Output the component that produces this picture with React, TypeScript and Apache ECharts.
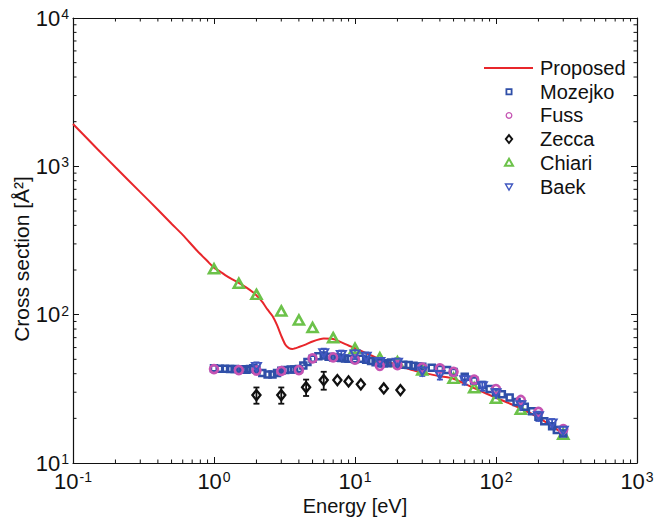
import React, { useEffect, useRef } from 'react';
import * as echarts from 'echarts';

// ---------- data ----------
const proposedEnergy = [0.1, 0.15, 0.2, 0.3, 0.4, 0.5, 0.6, 0.75, 0.9, 1.0, 1.1, 1.2, 1.35, 1.5, 1.7, 1.9, 2.0, 2.2, 2.4, 2.6, 2.8, 3.0, 3.2, 3.4, 3.6, 4.0, 4.5, 5.0, 6.0, 7.0, 7.8, 9, 10, 12, 15, 17, 20, 25, 32, 40, 50, 70, 100, 125, 150, 200, 240, 300];
const proposedSigma = [1930, 1300, 985, 670, 510, 410, 345, 273, 229, 207, 196, 185, 173, 164, 152, 141, 135, 122, 108, 98, 85, 72, 63, 59.5, 58.8, 60.5, 63, 66, 69, 68.5, 65.8, 62, 59.5, 55, 50, 48, 45.8, 42.5, 40.2, 38.5, 37, 32, 27.5, 25.2, 23.3, 20.3, 18.1, 15.8];

const mozejkoEnergy = [1.0, 1.1, 1.2, 1.3, 1.4, 1.5, 1.6, 1.7, 1.8, 1.9, 2.0, 2.2, 2.4, 2.6, 2.8, 3.0, 3.2, 3.5, 3.7, 4.0, 4.3, 4.6, 5.0, 5.5, 6.0, 6.5, 7.0, 7.5, 8.0, 8.5, 9.0, 10, 11, 12, 13, 14, 15, 16, 17, 18, 20, 22, 24, 26, 28, 30, 35, 40, 45, 50, 60, 70, 80, 90, 100, 110, 125, 140, 160, 180, 200, 220, 250, 270, 300];
const mozejkoSigma = [43.5, 43.2, 43.2, 43.0, 43.0, 42.8, 42.8, 42.6, 43.0, 43.5, 42.5, 40.5, 39.5, 39.5, 40.5, 41.8, 42.3, 42.7, 42.7, 43.0, 45.5, 48.0, 50.5, 52.5, 53.0, 52.0, 51.5, 51.5, 51.0, 50.7, 50.5, 50.0, 50.5, 49.7, 48.7, 47.8, 47.3, 47.0, 47.0, 47.5, 46.5, 46.0, 45.7, 45.2, 44.8, 44.5, 43.9, 43.0, 42.3, 41.0, 38.2, 36.0, 33.5, 31.5, 30.0, 29.1, 27.6, 25.8, 23.9, 22.3, 20.5, 19.1, 17.7, 16.7, 15.8];

const fussEnergy = [1, 1.5, 2, 3, 4, 5, 7, 10, 15, 20, 30, 40, 50, 70, 100, 150, 200, 300];
const fussSigma = [43, 42.3, 42, 41.7, 42.3, 50.7, 51.5, 49.7, 45.2, 45.7, 44, 43.5, 41.2, 36.5, 31.5, 26.6, 22.1, 16.9];

const zeccaEnergy = [2, 3, 4.5, 6, 7.5, 9, 11, 16, 21];
const zeccaSigma = [28.7, 28.7, 32.4, 36.2, 36.2, 35.5, 33.9, 31.8, 31.0];
const zeccaError = [3.6, 3.6, 4.1, 5.0, 0, 0, 0, 0, 0];

const chiariEnergy = [1, 1.5, 2, 3, 4, 5, 7, 10, 15, 20, 30, 50, 70, 100, 150, 300];
const chiariSigma = [204, 163, 137, 106, 92, 82, 70, 59.3, 51.2, 48.2, 42.3, 37.2, 32.2, 27.3, 23.0, 15.6];

const baekEnergy = [2, 6, 8, 10, 12, 15, 20, 30, 40, 60, 80, 100, 150, 200, 250, 300];
const baekSigma = [44.5, 55, 53.5, 54, 52, 48, 47.5, 41.5, 39.2, 36.2, 33, 29.5, 24.5, 20.7, 18.5, 16.5];
const baekError = [3.2, 4.0, 3.8, 3.8, 3.6, 3.4, 3.3, 2.9, 2.7, 2.5, 2.3, 2.1, 1.7, 1.5, 1.3, 1.2];

const xMinorTicks = [-1, 0, 1, 2].flatMap((d) => [2, 3, 4, 5, 6, 7, 8, 9].map((k) => k * Math.pow(10, d)));
const yMinorTicks = [1, 2, 3].flatMap((d) => [2, 3, 4, 5, 6, 7, 8, 9].map((k) => k * Math.pow(10, d)));

const legendNames = ['Proposed', 'Mozejko', 'Fuss', 'Zecca', 'Chiari', 'Baek'];
const xAxisTitle = 'Energy [eV]';
const yAxisTitle = 'Cross section [Å²]';

// ---------- styles ----------
const FONT = '"Liberation Sans", Arial, Helvetica, sans-serif';
const RED = '#e8262b';
const MOZ = '#2f4fa8';
const FUSS = '#c553b2';
const ZEC = '#111111';
const CHI = '#6cc24a';
const BAEK = '#3f57c0';

const zip = (a: number[], b: number[]) => a.map((v, i) => [v, b[i]]);

const tickLabel = (v: number) => {
  const e = Math.round(Math.log10(v));
  return `{b|10}{s|${e}}`;
};

const labelRich = {
  b: { fontSize: 22, fontFamily: FONT, color: '#111', verticalAlign: 'middle', lineHeight: 22 },
  s: { fontSize: 14, fontFamily: FONT, color: '#111', verticalAlign: 'top', lineHeight: 14, padding: [0, 0, 20, 1] },
};

function errorBarRender(color: string) {
  return (params: any, api: any) => {
    const x = api.value(0);
    const lo = api.value(1);
    const hi = api.value(2);
    const p1 = api.coord([x, lo]);
    const p2 = api.coord([x, hi]);
    const cap = 3;
    const style = { stroke: color, lineWidth: 1.8, fill: 'none' };
    return {
      type: 'group',
      children: [
        { type: 'line', shape: { x1: p1[0], y1: p1[1], x2: p2[0], y2: p2[1] }, style },
        { type: 'line', shape: { x1: p1[0] - cap, y1: p1[1], x2: p1[0] + cap, y2: p1[1] }, style },
        { type: 'line', shape: { x1: p2[0] - cap, y1: p2[1], x2: p2[0] + cap, y2: p2[1] }, style },
      ],
    };
  };
}

function errorData(e: number[], s: number[], err: number[]) {
  return e.map((v, i) => [v, s[i] - err[i], s[i] + err[i]]).filter((_, i) => err[i] > 0);
}

export default function App() {
  const ref = useRef<HTMLDivElement>(null);

  useEffect(() => {
    if (!ref.current) return;
    const chart = echarts.init(ref.current, undefined, { renderer: 'svg' });

    const axisCommon = {
      type: 'log' as const,
      logBase: 10,
      axisLine: { show: true, onZero: false, lineStyle: { color: '#111', width: 1.2 } },
      axisTick: { show: true, inside: true, length: 6, lineStyle: { color: '#111', width: 1 } },
      splitLine: { show: false },
      minorTick: { show: false },
      minorSplitLine: { show: false },
    };

    const lg = { x: 484, y0: 68, dy: 23.7, mx: 509, tx: 540 };
    const legendGraphics: any[] = [];
    legendGraphics.push({
      type: 'line', shape: { x1: lg.x, y1: lg.y0, x2: lg.x + 49, y2: lg.y0 },
      style: { stroke: RED, lineWidth: 2 },
    });
    const y1 = lg.y0 + lg.dy, y2 = lg.y0 + 2 * lg.dy, y3 = lg.y0 + 3 * lg.dy, y4 = lg.y0 + 4 * lg.dy, y5 = lg.y0 + 5 * lg.dy;
    legendGraphics.push({ type: 'rect', shape: { x: lg.mx - 2.6, y: y1 - 2.6, width: 5.2, height: 5.2 }, style: { stroke: MOZ, lineWidth: 1.8, fill: 'none' } });
    legendGraphics.push({ type: 'circle', shape: { cx: lg.mx, cy: y2, r: 2.8 }, style: { stroke: FUSS, lineWidth: 1.3, fill: 'none' } });
    legendGraphics.push({ type: 'polygon', shape: { points: [[lg.mx, y3 - 4], [lg.mx + 3.2, y3], [lg.mx, y3 + 4], [lg.mx - 3.2, y3]] }, style: { stroke: ZEC, lineWidth: 1.9, fill: 'none' } });
    legendGraphics.push({ type: 'polygon', shape: { points: [[lg.mx, y4 - 4], [lg.mx + 4, y4 + 3], [lg.mx - 4, y4 + 3]] }, style: { stroke: CHI, lineWidth: 2, fill: 'none' } });
    legendGraphics.push({ type: 'polygon', shape: { points: [[lg.mx - 3.5, y5 - 2.5], [lg.mx + 3.5, y5 - 2.5], [lg.mx, y5 + 3.5]] }, style: { stroke: BAEK, lineWidth: 1.4, fill: 'none' } });
    legendNames.forEach((n, i) => {
      legendGraphics.push({
        type: 'text', x: lg.tx, y: lg.y0 + i * lg.dy,
        style: { text: n, font: `20px ${FONT}`, fill: '#111', align: 'left', verticalAlign: 'middle' },
      });
    });
    // y-axis title (rotated text, offset like the reference)
    legendGraphics.push({
      type: 'text', x: 21, y: 259, rotation: Math.PI / 2,
      style: { text: yAxisTitle, font: `21px ${FONT}`, fill: '#111', align: 'center', verticalAlign: 'middle' },
    });

    const option: any = {
      animation: false,
      backgroundColor: '#ffffff',
      textStyle: { fontFamily: FONT },
      grid: { left: 73, right: 32, top: 18, bottom: 56, containLabel: false, outerBoundsMode: 'none' },
      xAxis: [
        {
          ...axisCommon,
          position: 'bottom',
          min: 0.1,
          max: 1000,
          name: xAxisTitle,
          nameLocation: 'middle',
          nameGap: 33,
          nameMoveOverlap: false,
          nameTextStyle: { fontSize: 20, fontFamily: FONT, color: '#111', verticalAlign: 'top' },
          axisLabel: { show: true, margin: 7, formatter: tickLabel, rich: labelRich, showMinLabel: true, showMaxLabel: true },
        },
        {
          ...axisCommon,
          position: 'top',
          min: 0.1,
          max: 1000,
          axisLabel: { show: false },
        },
      ],
      yAxis: [
        {
          ...axisCommon,
          position: 'left',
          min: 10,
          max: 10000,
          axisLabel: { show: true, margin: 4, formatter: tickLabel, rich: labelRich, showMinLabel: true, showMaxLabel: true },
        },
        {
          ...axisCommon,
          position: 'right',
          min: 10,
          max: 10000,
          axisLabel: { show: false },
        },
      ],
      graphic: legendGraphics,
      series: [
        {
          name: 'Proposed', type: 'line', data: zip(proposedEnergy, proposedSigma),
          symbol: 'none', smooth: 0.2, lineStyle: { color: RED, width: 2 }, z: 2,
        },
        {
          name: 'Zecca error', type: 'custom', renderItem: errorBarRender(ZEC),
          data: errorData(zeccaEnergy, zeccaSigma, zeccaError), encode: { x: 0, y: [1, 2] }, z: 3,
        },
        {
          name: 'Baek error', type: 'custom', renderItem: errorBarRender(BAEK),
          data: errorData(baekEnergy, baekSigma, baekError), encode: { x: 0, y: [1, 2] }, z: 3,
        },
        {
          name: 'Chiari', type: 'scatter', data: zip(chiariEnergy, chiariSigma), symbol: 'triangle', symbolSize: [10, 9],
          itemStyle: { color: 'rgba(255,255,255,0)', borderColor: CHI, borderWidth: 2.6, opacity: 1 }, z: 4,
        },
        {
          name: 'Zecca', type: 'scatter', data: zip(zeccaEnergy, zeccaSigma), symbol: 'diamond', symbolSize: [8, 10],
          itemStyle: { color: 'rgba(255,255,255,0)', borderColor: ZEC, borderWidth: 2.4, opacity: 1 }, z: 4,
        },
        {
          name: 'Mozejko', type: 'scatter', data: zip(mozejkoEnergy, mozejkoSigma), symbol: 'rect', symbolSize: 6,
          itemStyle: { color: 'rgba(255,255,255,0)', borderColor: MOZ, borderWidth: 2.5, opacity: 1 }, z: 4,
        },
        {
          name: 'Fuss', type: 'scatter', data: zip(fussEnergy, fussSigma), symbol: 'circle', symbolSize: 8,
          itemStyle: { color: 'rgba(255,255,255,0)', borderColor: FUSS, borderWidth: 2.6, opacity: 1 }, z: 5,
        },
        {
          name: 'Baek', type: 'scatter', data: zip(baekEnergy, baekSigma), symbol: 'triangle', symbolRotate: 180, symbolSize: [9, 8],
          itemStyle: { color: 'rgba(255,255,255,0)', borderColor: BAEK, borderWidth: 2, opacity: 1 }, z: 5,
        },
        {
          name: 'x minor ticks', type: 'custom', silent: true, z: 6,
          data: xMinorTicks.map((v) => [v, 100]),
          encode: { x: 0, y: 1 },
          renderItem: (params: any, api: any) => {
            const cs = params.coordSys;
            const p = api.coord([api.value(0), api.value(1)]);
            const style = { stroke: '#111', lineWidth: 1 };
            return {
              type: 'group', children: [
                { type: 'line', shape: { x1: p[0], y1: cs.y + cs.height, x2: p[0], y2: cs.y + cs.height - 3.5 }, style },
                { type: 'line', shape: { x1: p[0], y1: cs.y, x2: p[0], y2: cs.y + 3.5 }, style },
              ],
            };
          },
        },
        {
          name: 'y minor ticks', type: 'custom', silent: true, z: 6,
          data: yMinorTicks.map((v) => [1, v]),
          encode: { x: 0, y: 1 },
          renderItem: (params: any, api: any) => {
            const cs = params.coordSys;
            const p = api.coord([api.value(0), api.value(1)]);
            const style = { stroke: '#111', lineWidth: 1 };
            return {
              type: 'group', children: [
                { type: 'line', shape: { x1: cs.x, y1: p[1], x2: cs.x + 3.5, y2: p[1] }, style },
                { type: 'line', shape: { x1: cs.x + cs.width, y1: p[1], x2: cs.x + cs.width - 3.5, y2: p[1] }, style },
              ],
            };
          },
        },
      ],
    };

    chart.setOption(option);
    return () => chart.dispose();
  }, []);

  return (
    <div
      ref={ref}
      style={{ position: 'fixed', left: 0, top: 0, width: 669, height: 519, background: '#fff' }}
    />
  );
}
